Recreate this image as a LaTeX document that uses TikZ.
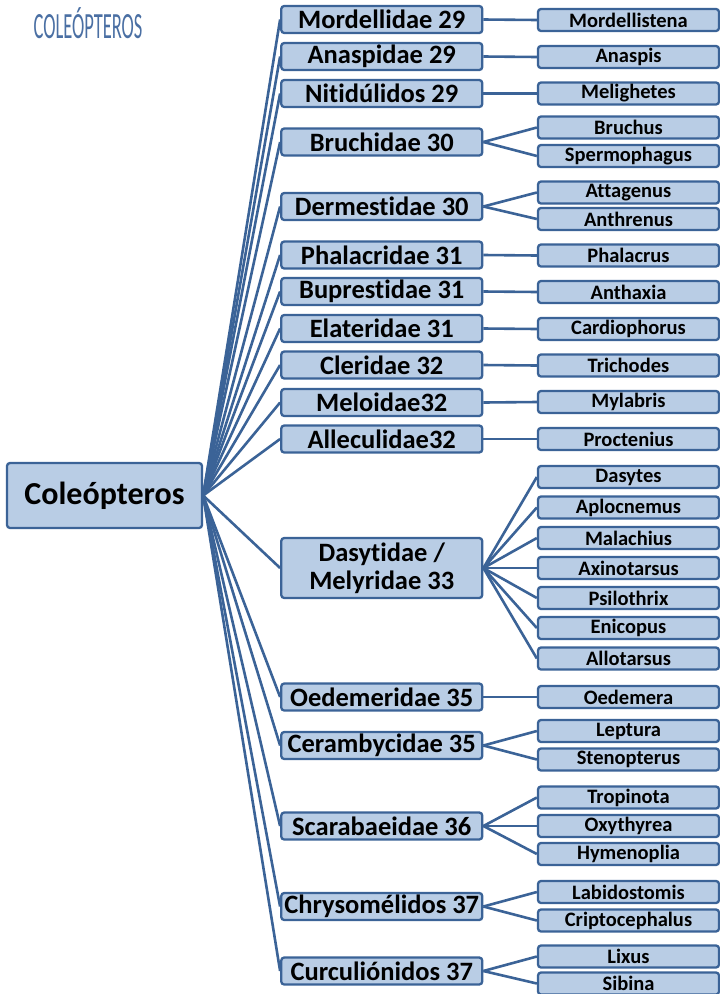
\documentclass[tikz,border=0pt]{standalone}
\usepackage{fontspec}
\setmainfont{Carlito}[Ligatures=NoCommon]
\usepackage{tikz}
\usetikzlibrary{arrows.meta}

\definecolor{boxfill}{HTML}{B9CDE5}
\definecolor{boxline}{HTML}{3B6397}
\definecolor{titleblue}{HTML}{4A6FA3}

\begin{document}
\begin{tikzpicture}[x=1pt, y=-1pt,
    base/.style={draw=boxline, fill=boxfill, line width=2.3pt, rounded corners=3pt,
      inner sep=0pt, align=center, font=\bfseries},
    rootbox/.style={base, minimum width=195pt, minimum height=65pt, font=\fontsize{32}{32}\bfseries},
    family/.style={base, minimum width=201pt, minimum height=27pt, font=\fontsize{26.5}{28}\bfseries},
    genus/.style={base, minimum width=181pt, minimum height=22pt, font=\fontsize{20.5}{20.5}\bfseries},
    link/.style={draw=boxline, line width=2.6pt}]
    \useasboundingbox (0,0) rectangle (720,994);

    \node (title) at (88,23) [text=titleblue, font=\fontsize{37}{37}\selectfont]
      {\scalebox{0.5}[1]{COLEÓPTEROS}};

    \node (root) at (104.5,495.5) [rootbox] {Coleópteros};

    % familias
    \node (mor) at (381.75,19.5) [family] {Mordellidae 29};
    \node (ana) at (381.75,56.5) [family] {Anaspidae 29};
    \node (nit) at (381.75,93.5) [family] {Nitidúlidos 29};
    \node (bru) at (381.75,142) [family] {Bruchidae 30};
    \node (der) at (381.75,206.5) [family] {Dermestidae 30};
    \node (pha) at (381.75,255) [family] {Phalacridae 31};
    \node (bup) at (381.75,291.5) [family] {Buprestidae 31};
    \node (ela) at (381.75,328.5) [family] {Elateridae 31};
    \node (cle) at (381.75,365) [family] {Cleridae 32};
    \node (mel) at (381.75,402.5) [family] {Meloidae32};
    \node (all) at (381.75,439) [family] {Alleculidae32};
    \node (das) at (381.75,568) [family, minimum height=60pt] {Dasytidae /\\Melyridae 33};
    \node (oed) at (381.75,697) [family] {Oedemeridae 35};
    \node (cer) at (381.75,745.5) [family] {Cerambycidae 35};
    \node (sca) at (381.75,826) [family] {Scarabaeidae 36};
    \node (chr) at (381.75,906.5) [family] {Chrysomélidos 37};
    \node (cur) at (381.75,971) [family] {Curculiónidos 37};

    % generos
    \node (g-mor) at (628.5,20) [genus] {Mordellistena};
    \node (g-ana) at (628.5,57) [genus] {Anaspis};
    \node (g-nit) at (628.5,93.5) [genus] {Melighetes};
    \node (g-bru1) at (628.5,127.5) [genus] {Bruchus};
    \node (g-bru2) at (628.5,156) [genus] {Spermophagus};
    \node (g-der1) at (628.5,192.5) [genus] {Attagenus};
    \node (g-der2) at (628.5,219) [genus] {Anthrenus};
    \node (g-pha) at (628.5,255.5) [genus] {Phalacrus};
    \node (g-bup) at (628.5,292) [genus] {Anthaxia};
    \node (g-ela) at (628.5,329) [genus] {Cardiophorus};
    \node (g-cle) at (628.5,365.5) [genus] {Trichodes};
    \node (g-mel) at (628.5,402) [genus] {Mylabris};
    \node (g-all) at (628.5,439) [genus] {Proctenius};
    \node (g-das1) at (628.5,477) [genus] {Dasytes};
    \node (g-das2) at (628.5,507.5) [genus] {Aplocnemus};
    \node (g-das3) at (628.5,538) [genus] {Malachius};
    \node (g-das4) at (628.5,568) [genus] {Axinotarsus};
    \node (g-das5) at (628.5,598) [genus] {Psilothrix};
    \node (g-das6) at (628.5,628) [genus] {Enicopus};
    \node (g-das7) at (628.5,658.5) [genus] {Allotarsus};
    \node (g-oed) at (628.5,697) [genus] {Oedemera};
    \node (g-cer1) at (628.5,731) [genus] {Leptura};
    \node (g-cer2) at (628.5,759.5) [genus] {Stenopterus};
    \node (g-sca1) at (628.5,797.5) [genus] {Tropinota};
    \node (g-sca2) at (628.5,826) [genus] {Oxythyrea};
    \node (g-sca3) at (628.5,854) [genus] {Hymenoplia};
    \node (g-chr1) at (628.5,892) [genus] {Labidostomis};
    \node (g-chr2) at (628.5,920.5) [genus] {Criptocephalus};
    \node (g-cur1) at (628.5,956.5) [genus] {Lixus};
    \node (g-cur2) at (628.5,983.5) [genus] {Sibina};

    % orden - familias
    \draw[link] (root.east) edge (mor.west);
    \draw[link] (root.east) edge (ana.west);
    \draw[link] (root.east) edge (nit.west);
    \draw[link] (root.east) edge (bru.west);
    \draw[link] (root.east) edge (der.west);
    \draw[link] (root.east) edge (pha.west);
    \draw[link] (root.east) edge (bup.west);
    \draw[link] (root.east) edge (ela.west);
    \draw[link] (root.east) edge (cle.west);
    \draw[link] (root.east) edge (mel.west);
    \draw[link] (root.east) edge (all.west);
    \draw[link] (root.east) edge (das.west);
    \draw[link] (root.east) edge (oed.west);
    \draw[link] (root.east) edge (cer.west);
    \draw[link] (root.east) edge (sca.west);
    \draw[link] (root.east) edge (chr.west);
    \draw[link] (root.east) edge (cur.west);

    % familias - generos
    \draw[link] (mor.east) edge (g-mor.west);
    \draw[link] (ana.east) edge (g-ana.west);
    \draw[link] (nit.east) edge (g-nit.west);
    \draw[link] (bru.east) edge (g-bru1.west);
    \draw[link] (bru.east) edge (g-bru2.west);
    \draw[link] (der.east) edge (g-der1.west);
    \draw[link] (der.east) edge (g-der2.west);
    \draw[link] (pha.east) edge (g-pha.west);
    \draw[link] (bup.east) edge (g-bup.west);
    \draw[link] (ela.east) edge (g-ela.west);
    \draw[link] (cle.east) edge (g-cle.west);
    \draw[link] (mel.east) edge (g-mel.west);
    \draw[link] (all.east) edge (g-all.west);
    \draw[link] (das.east) edge (g-das1.west);
    \draw[link] (das.east) edge (g-das2.west);
    \draw[link] (das.east) edge (g-das3.west);
    \draw[link] (das.east) edge (g-das4.west);
    \draw[link] (das.east) edge (g-das5.west);
    \draw[link] (das.east) edge (g-das6.west);
    \draw[link] (das.east) edge (g-das7.west);
    \draw[link] (oed.east) edge (g-oed.west);
    \draw[link] (cer.east) edge (g-cer1.west);
    \draw[link] (cer.east) edge (g-cer2.west);
    \draw[link] (sca.east) edge (g-sca1.west);
    \draw[link] (sca.east) edge (g-sca2.west);
    \draw[link] (sca.east) edge (g-sca3.west);
    \draw[link] (chr.east) edge (g-chr1.west);
    \draw[link] (chr.east) edge (g-chr2.west);
    \draw[link] (cur.east) edge (g-cur1.west);
    \draw[link] (cur.east) edge (g-cur2.west);
  \end{tikzpicture}
\end{document}
